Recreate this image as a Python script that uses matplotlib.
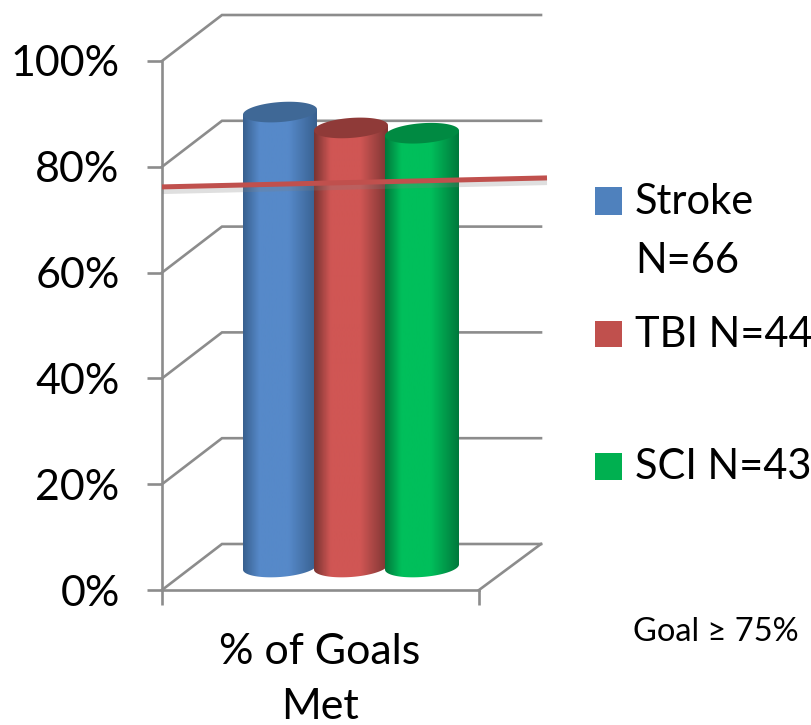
import matplotlib
matplotlib.use('Agg')
import matplotlib.pyplot as plt
from matplotlib.colors import LinearSegmentedColormap
from matplotlib.path import Path
from matplotlib.patches import Polygon, Rectangle
import numpy as np

# values
groups = ['Stroke', 'TBI', 'SCI']
goals_met = [86, 83, 82]
tick_vals = [0, 20, 40, 60, 80, 100]
tick_labels = ['0%', '20%', '40%', '60%', '80%', '100%']
category = '% of Goals\nMet'
goal_line = [76.2, 77.9]
legend_labels = ['Stroke\nN=66', 'TBI N=44', 'SCI N=43']
goal_note = 'Goal \u2265 75%'

# edge, highlight, top of each cylinder
shades = [('#38608f', '#5689c9', '#3f6896'),
          ('#7a3432', '#d05654', '#8f3a38'),
          ('#00793c', '#00bf5b', '#008a42')]
legend_colors = ['#4f81bd', '#c0504d', '#00b050']
grid_col = '#8c8c8c'
W, H = 811, 725
plt.rcParams['font.family'] = ['Lato', 'DejaVu Sans']

fig = plt.figure(figsize=(W / 100, H / 100), dpi=100)
# axes box is the front plane of the 3d chart
ax = fig.add_axes([162 / W, 1 - 590 / H, 317 / W, 529 / H])
ax.set_xlim(0, 317)
ax.set_ylim(0, 100)
ppu = 529 / 100  # pixels per percent
dx, dy = 60, 46 / ppu

for s in ['top', 'right']:
    ax.spines[s].set_visible(False)
for s in ['left', 'bottom']:
    ax.spines[s].set_color(grid_col)
    ax.spines[s].set_linewidth(1.9)
ax.set_yticks(tick_vals, tick_labels, fontsize=31)
ax.set_xticks([0, 317], ['', ''])
ax.tick_params(axis='both', color=grid_col, width=1.9, length=10.5)
ax.tick_params(axis='y', pad=20)

# walls and floor
for v in tick_vals:
    ax.plot([0, dx, 379], [v, v + dy, v + dy], color=grid_col, lw=1.9,
            clip_on=False, zorder=1, solid_joinstyle='miter')
ax.plot([317, 379], [0, dy], color=grid_col, lw=1.9, clip_on=False, zorder=1)

# cylinders, each one overlaps the previous
bar_centers = [118, 189, 260]
half_w = 37
ell_b = 10
shear = 0.07
t = np.linspace(0, 2 * np.pi, 200)
base = dy / 2

for i, val in enumerate(goals_met):
    cx = bar_centers[i]
    top = base + val
    ex = half_w * np.cos(t)
    ey = (ell_b * np.sin(t) + ex * shear) / ppu
    # body outline: front half of the base ellipse + up to the top
    tb = np.linspace(np.pi, 2 * np.pi, 100)
    bx = cx + half_w * np.cos(tb)
    by = base + (ell_b * np.sin(tb) + half_w * np.cos(tb) * shear) / ppu
    verts = np.column_stack([np.r_[bx, cx + half_w, cx - half_w],
                             np.r_[by, top + half_w * shear / ppu, top - half_w * shear / ppu]])
    cmap = LinearSegmentedColormap.from_list('c%d' % i, [(0, shades[i][0]), (0.22, shades[i][1]),
                                                         (0.62, shades[i][1]), (1, shades[i][0])])
    im = ax.imshow(np.linspace(0, 1, 120).reshape(1, -1), cmap=cmap, aspect='auto',
                   extent=[cx - half_w, cx + half_w, 0, 100], zorder=3 + i)
    im.set_clip_path(Path(np.vstack([verts, verts[0]])), ax.transData)
    ax.add_patch(Polygon(np.column_stack([cx + ex, top + ey]), closed=True, fc=shades[i][2],
                         ec='none', zorder=3 + i))
ax.set_xlim(0, 317)
ax.set_ylim(0, 100)

# goal line with soft shadow
ax.plot([0, 385], [g - 0.7 for g in goal_line], color='#808080', alpha=0.25, lw=5,
        clip_on=False, zorder=9, solid_capstyle='butt')
ax.plot([0, 385], goal_line, color='#c0504d', lw=3.6, clip_on=False, zorder=10,
        solid_capstyle='butt')

# category label
fig.text(320 / W, 1 - 652 / H, category.split('\n')[0], ha='center', va='center', fontsize=31)
fig.text(320 / W, 1 - 707 / H, category.split('\n')[1], ha='center', va='center', fontsize=31)

# legend
legend_y = [202, 335, 467]
for lab, col, y in zip(legend_labels, legend_colors, legend_y):
    fig.add_artist(Rectangle((595 / W, 1 - (y + 12.5) / H), 27 / W, 27 / H, fc=col, ec='none',
                             transform=fig.transFigure))
    parts = lab.split('\n')
    for j, p in enumerate(parts):
        fig.text(635 / W, 1 - (y + j * 59) / H, p, ha='left', va='center', fontsize=30)

fig.text(633 / W, 1 - 632 / H, goal_note, ha='left', va='center', fontsize=23.5)

fig.savefig('out.png', dpi=100)
